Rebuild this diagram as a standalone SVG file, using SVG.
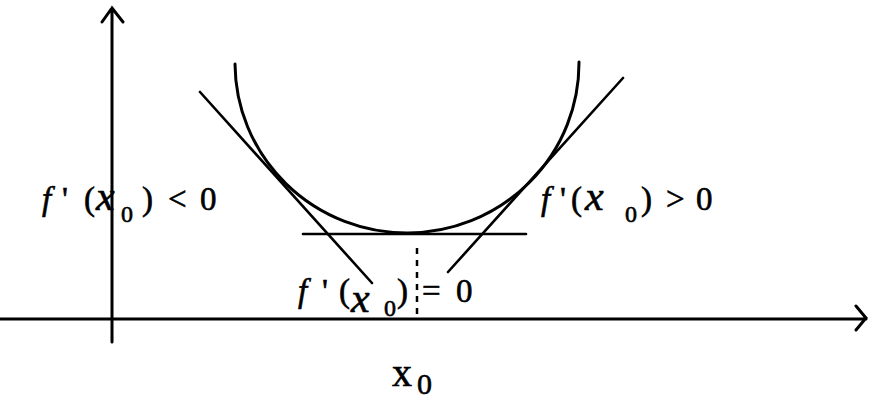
<svg xmlns="http://www.w3.org/2000/svg" width="870" height="399" viewBox="0 0 870 399">
<style>
.ln{fill:none;stroke:#000;stroke-linecap:round}
.ax{stroke-width:3}
.tg{stroke-width:2.6}
.cv{stroke-width:3}
.dot{stroke-width:2.5;stroke-dasharray:6 6;stroke-linecap:butt}
text{font-family:'Liberation Serif','DejaVu Serif',serif;fill:#000;stroke:#000;stroke-width:0.6}
.m{font-size:33px}
.it{font-style:italic}
.bx{font-size:42px;font-style:italic}
.sb{font-size:24px}
</style>
<rect width="870" height="399" fill="#fff"/>
<g id="axes">
<path class="ln ax" d="M112,342 V8 M102,22 L112,8 L123,22"/>
<path class="ln ax" d="M0,319 H866 M856,306 L866,318 L856,330"/>
</g>
<g id="curve">
<path class="ln cv" d="M235,64 A172,170 0 0 0 579,62"/>
</g>
<g id="connectors">
<path class="ln tg" d="M200,92 L372,283"/>
<path class="ln tg" d="M623,78 L448,272"/>
<path class="ln tg" d="M303,234 H526"/>
<path class="ln dot" d="M417,248 V318"/>
</g>
<g id="label-left">
<text class="m" y="210"><tspan class="it" x="42">f</tspan><tspan x="62">'</tspan><tspan x="84">(</tspan><tspan class="bx" x="96">x</tspan><tspan class="sb" x="121" y="222">0</tspan><tspan x="142" y="210">)</tspan><tspan x="168">&lt;</tspan><tspan x="200">0</tspan></text>
</g>
<g id="label-right">
<text class="m" y="210"><tspan class="it" x="541">f</tspan><tspan x="560">'</tspan><tspan x="571">(</tspan><tspan class="bx" x="585">x</tspan><tspan class="sb" x="625" y="222">0</tspan><tspan x="641" y="210">)</tspan><tspan x="666">&gt;</tspan><tspan x="696">0</tspan></text>
</g>
<g id="label-bottom">
<text class="m" y="302"><tspan class="it" x="298">f</tspan><tspan x="322">'</tspan><tspan x="339">(</tspan><tspan class="bx" x="351" y="312">x</tspan><tspan class="sb" x="384" y="316">0</tspan><tspan x="397" y="302">)</tspan><tspan x="422">=</tspan><tspan x="456">0</tspan></text>
</g>
<g id="label-x0">
<text y="386" font-size="40"><tspan x="392">x</tspan><tspan font-size="30" x="417" y="394">0</tspan></text>
</g>
</svg>
